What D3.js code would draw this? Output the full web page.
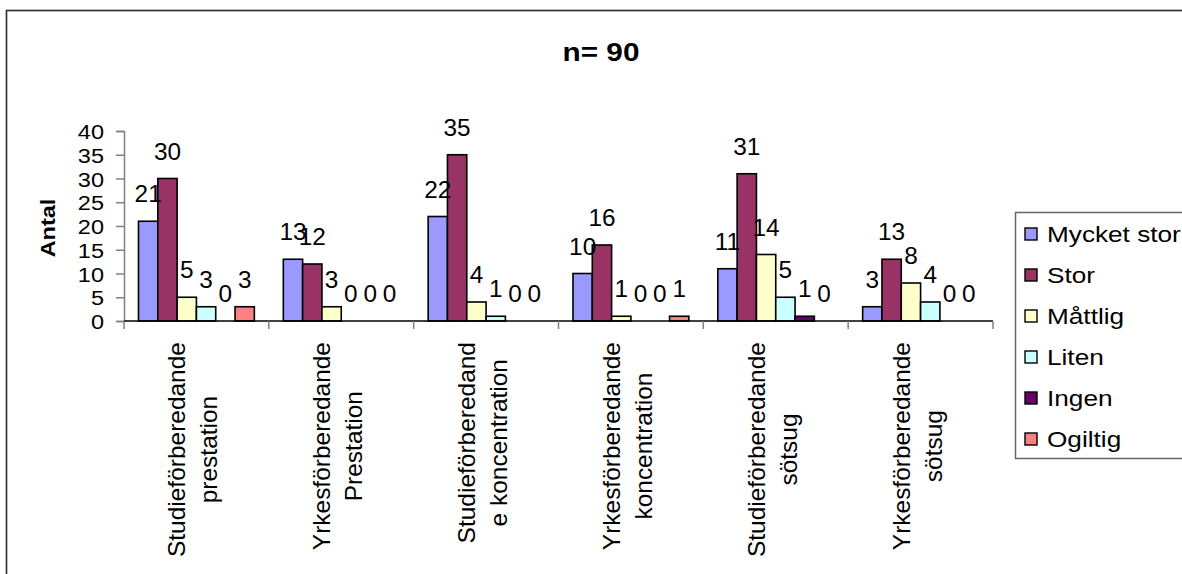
<!DOCTYPE html>
<html>
<head>
<meta charset="utf-8">
<script src="https://cdn.jsdelivr.net/npm/d3@7"></script>
<style>
  html, body { margin: 0; padding: 0; background: #fff; }
  svg { display: block; font-family: "Liberation Sans", Arial, sans-serif; }
</style>
</head>
<body>
<svg id="chart" width="1182" height="574"></svg>
<script>
// Categories (two-line labels), series names and counts per category
const categories = [
  ["Studieförberedande", "prestation"],
  ["Yrkesförberedande", "Prestation"],
  ["Studieförberedand", "e koncentration"],
  ["Yrkesförberedande", "koncentration"],
  ["Studieförberedande", "sötsug"],
  ["Yrkesförberedande", "sötsug"]
];
const seriesNames = ["Mycket stor", "Stor", "Måttlig", "Liten", "Ingen", "Ogiltig"];
const mycketStor = [21, 13, 22, 10, 11, 3];
const stor       = [30, 12, 35, 16, 31, 13];
const mattlig    = [5, 3, 4, 1, 14, 8];
const liten      = [3, 0, 1, 0, 5, 4];
const ingen      = [0, 0, 0, 0, 1, 0];
const ogiltig    = [3, 0, 0, 1, 0, 0];
const yTicks     = [0, 5, 10, 15, 20, 25, 30, 35, 40];
const titleText  = "n= 90";
const yTitle     = "Antal";

const seriesValues = [mycketStor, stor, mattlig, liten, ingen, ogiltig];
const colors = ["#9999FF", "#993366", "#FFFFCC", "#CCFFFF", "#660066", "#FF8080"];

const svg = d3.select("#chart");

// outer chart frame
svg.append("rect")
  .attr("x", 6.5).attr("y", 10.5)
  .attr("width", 1300).attr("height", 700)
  .attr("fill", "none").attr("stroke", "#2a2a2a").attr("stroke-width", 1.6);

const plot = { left: 124, right: 993, top: 131, bottom: 321 };

const x0 = d3.scaleBand()
  .domain(d3.range(categories.length))
  .range([plot.left, plot.right])
  .padding(0);

const x1 = d3.scaleBand()
  .domain(d3.range(seriesNames.length))
  .range([0, x0.bandwidth()])
  .paddingInner(0)
  .paddingOuter(0.75);

const y = d3.scaleLinear().domain([0, 40]).range([plot.bottom, plot.top]);

// title
svg.append("text")
  .attr("transform", "translate(601,61) scale(1.19,1)")
  .attr("text-anchor", "middle")
  .attr("font-size", 25).attr("font-weight", "bold")
  .text(titleText);

// y axis title
svg.append("text")
  .attr("transform", "translate(55,228) rotate(-90) scale(1.12,1)")
  .attr("text-anchor", "middle")
  .attr("font-size", 21).attr("font-weight", "bold")
  .text(yTitle);

// y axis
const yAxis = d3.axisLeft(y).tickValues(yTicks).tickSize(8).tickFormat(d3.format("d"));
const yG = svg.append("g").attr("transform", `translate(${plot.left},0)`).call(yAxis);
yG.select(".domain").attr("stroke", "#808080").attr("stroke-width", 1.5);
yG.selectAll(".tick line").attr("stroke", "#808080").attr("stroke-width", 1.5);
yG.selectAll(".tick text").remove();
yG.selectAll(".tick").append("text")
  .attr("transform", "translate(-20,7.5) scale(1.12,1)")
  .attr("text-anchor", "end")
  .attr("fill", "#000")
  .attr("font-size", 21)
  .attr("font-family", "Liberation Sans, Arial, sans-serif")
  .text(d => d);

// bars
const groups = svg.append("g").selectAll("g")
  .data(categories.map((c, i) => i))
  .join("g")
  .attr("transform", i => `translate(${x0(i)},0)`);

groups.selectAll("rect")
  .data(i => seriesValues.map((vals, s) => ({ s, v: vals[i] })))
  .join("rect")
  .attr("x", d => x1(d.s))
  .attr("y", d => y(d.v))
  .attr("width", x1.bandwidth())
  .attr("height", d => y(0) - y(d.v))
  .attr("fill", d => colors[d.s])
  .attr("stroke", "#000")
  .attr("stroke-width", 1.6);

// value labels
groups.selectAll("text.val")
  .data(i => seriesValues.map((vals, s) => ({ s, v: vals[i] })))
  .join("text")
  .attr("class", "val")
  .attr("transform", d => `translate(${x1(d.s) + x1.bandwidth() / 2},${y(d.v) - 19}) scale(1.06,1)`)
  .attr("text-anchor", "middle")
  .attr("font-size", 23)
  .text(d => d.v);

// x axis line and category separators
const xG = svg.append("g");
xG.append("line")
  .attr("x1", plot.left).attr("x2", plot.right)
  .attr("y1", plot.bottom).attr("y2", plot.bottom)
  .attr("stroke", "#000").attr("stroke-width", 1.5);
xG.selectAll("line.sep")
  .data(d3.range(categories.length + 1))
  .join("line")
  .attr("class", "sep")
  .attr("x1", i => plot.left + i * x0.step())
  .attr("x2", i => plot.left + i * x0.step())
  .attr("y1", plot.bottom).attr("y2", plot.bottom + 8)
  .attr("stroke", "#808080").attr("stroke-width", 1.5);

// category labels, rotated, lines centred, block ending near the axis
const catStretch = 1.02;
const catFont = 24;
categories.forEach((lines, i) => {
  const cx = x0(i) + x0.bandwidth() / 2;
  const g = svg.append("g");
  const texts = lines.map(t => g.append("text")
    .attr("font-size", catFont)
    .attr("text-anchor", "middle")
    .text(t));
  const maxLen = d3.max(texts, t => t.node().getComputedTextLength()) * catStretch;
  const cy = 342 + maxLen / 2;
  texts.forEach((t, k) => {
    const lx = cx - 11 + k * 32;
    t.attr("transform", `translate(${lx},${cy}) rotate(-90) scale(${catStretch},1)`);
  });
});

// legend
const legend = svg.append("g");
legend.append("rect")
  .attr("x", 1015.5).attr("y", 212.5)
  .attr("width", 300).attr("height", 246)
  .attr("fill", "#fff").attr("stroke", "#666").attr("stroke-width", 1.5);
const items = legend.selectAll("g.item")
  .data(seriesNames)
  .join("g")
  .attr("class", "item")
  .attr("transform", (d, i) => `translate(1025,${234 + i * 41})`);
items.append("rect")
  .attr("x", 0).attr("y", -6)
  .attr("width", 12).attr("height", 12)
  .attr("fill", (d, i) => colors[i])
  .attr("stroke", "#000").attr("stroke-width", 1.4);
items.append("text")
  .attr("transform", "translate(22,8) scale(1.19,1)")
  .attr("font-size", 22)
  .text(d => d);
</script>
</body>
</html>
